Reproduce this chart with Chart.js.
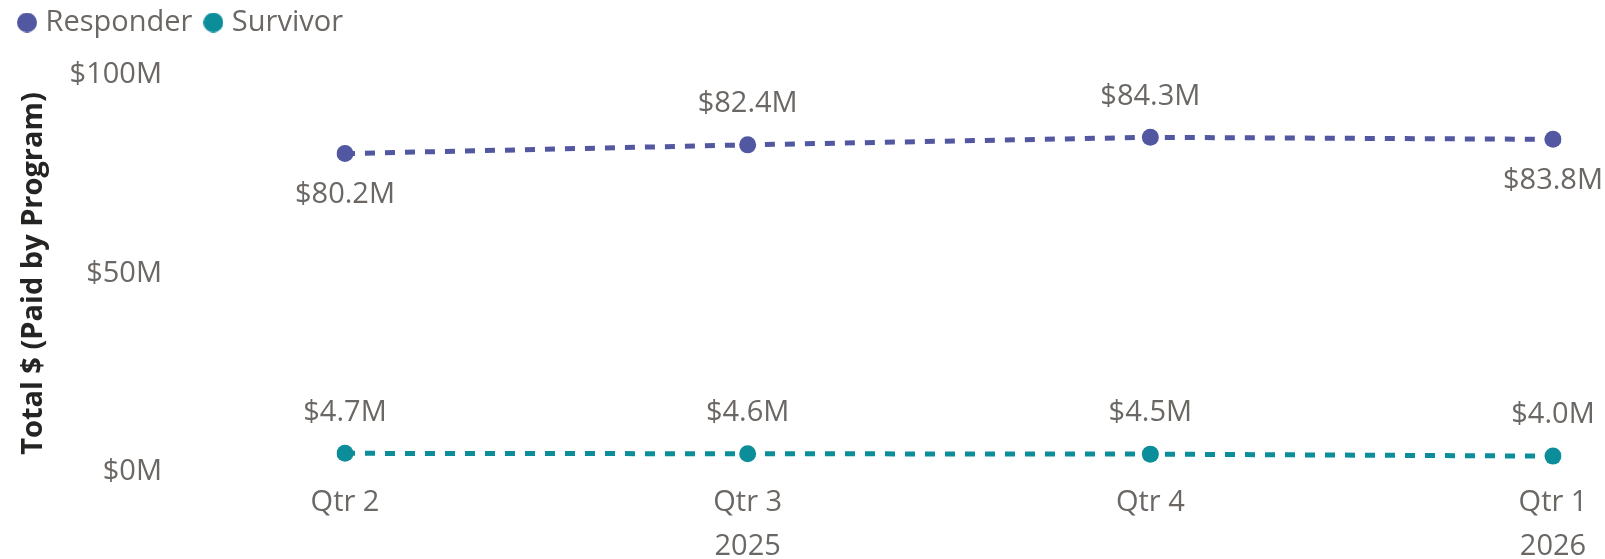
<!DOCTYPE html>
<html><head><meta charset="utf-8">
<script src="https://cdn.jsdelivr.net/npm/chart.js@4/dist/chart.umd.min.js"></script>
<style>html,body{margin:0;padding:0;background:#fff}#wrap{width:1605px;height:559px}</style>
</head><body><div id="wrap"><canvas id="c" width="1605" height="559"></canvas></div>
<script>
const quarters = [['Qtr 2'], ['Qtr 3', '2025'], ['Qtr 4'], ['Qtr 1', '2026']];
const responder = [80.2, 82.4, 84.3, 83.8];
const survivor = [4.7, 4.6, 4.5, 4.0];
const yTicks = [0, 50, 100];

const FONT = "'Segoe UI', 'Open Sans', sans-serif";
const GRAY = '#6b6764';
const C1 = '#5257A1', C2 = '#0B8E9A';

const labelPlacement = [['below','above','above','below'], ['above','above','above','above']];

function circleImg(color) {
  const c = document.createElement('canvas');
  c.width = 20; c.height = 20;
  const g = c.getContext('2d');
  g.fillStyle = color;
  g.beginPath(); g.arc(10, 10, 10, 0, Math.PI * 2); g.fill();
  return c;
}

const dataLabels = {
  id: 'dataLabels',
  afterDatasetsDraw(chart) {
    const ctx = chart.ctx;
    ctx.save();
    ctx.font = '29px ' + FONT;
    ctx.fillStyle = GRAY;
    ctx.textAlign = 'center';
    ctx.textBaseline = 'middle';
    chart.data.datasets.forEach((ds, di) => {
      chart.getDatasetMeta(di).data.forEach((pt, i) => {
        const off = labelPlacement[di][i] === 'above' ? -41 : 41;
        ctx.fillText('$' + ds.data[i].toFixed(1) + 'M', pt.x, pt.y + off);
      });
    });
    ctx.restore();
  }
};

const legendHeight = {
  id: 'legendHeight',
  beforeInit(chart) {
    const lg = chart.legend;
    const orig = lg.fit;
    lg.fit = function () { orig.call(this); this.height = 84; };
  }
};

new Chart(document.getElementById('c'), {
  type: 'line',
  data: {
    labels: quarters,
    datasets: [
      { label: 'Responder', data: responder, borderColor: C1, backgroundColor: C1, pointBackgroundColor: C1,
        borderWidth: 5, borderDash: [10, 10], pointRadius: 8.5, pointBorderWidth: 0, pointStyle: 'circle' },
      { label: 'Survivor', data: survivor, borderColor: C2, backgroundColor: C2, pointBackgroundColor: C2,
        borderWidth: 5, borderDash: [10, 10], pointRadius: 8.5, pointBorderWidth: 0, pointStyle: 'circle' }
    ]
  },
  options: {
    responsive: false,
    animation: false,
    layout: { padding: { left: 6, right: 52, top: -9, bottom: 0 } },
    plugins: {
      tooltip: { enabled: false },
      legend: {
        display: true, position: 'top', align: 'start',
        labels: { usePointStyle: true, boxHeight: 14, boxWidth: 8,
          padding: 17, color: GRAY, font: { family: FONT, size: 29 },
          generateLabels(chart) {
            const items = Chart.defaults.plugins.legend.labels.generateLabels(chart);
            items.forEach(it => { it.pointStyle = circleImg(chart.data.datasets[it.datasetIndex].borderColor); });
            return items;
          } }
      }
    },
    scales: {
      x: {
        offset: false,
        grid: { display: false, drawTicks: false },
        border: { display: false },
        ticks: { color: GRAY, font: { family: FONT, size: 29, lineHeight: 1.5 }, padding: 9, maxRotation: 0, autoSkip: false },
        afterFit(s) { s.height = 87; s.paddingLeft = 0; s.paddingRight = 0; }
      },
      y: {
        min: 0, max: 100,
        grid: { display: false, drawTicks: false },
        border: { display: false },
        afterBuildTicks(s) { s.ticks = yTicks.map(v => ({ value: v })); },
        ticks: { color: GRAY, font: { family: FONT, size: 29 }, padding: 183,
          callback: v => '$' + v + 'M' },
        title: { display: true, text: 'Total $ (Paid by Program)', color: '#252423',
          font: { family: FONT, size: 29, weight: 'bold' }, padding: { top: 10, bottom: 0 } },
        afterFit(s) { s.width = 345 - 6; s.paddingTop = 0; s.paddingBottom = 0; }
      }
    }
  },
  plugins: [dataLabels, legendHeight]
});
</script>
</body></html>
